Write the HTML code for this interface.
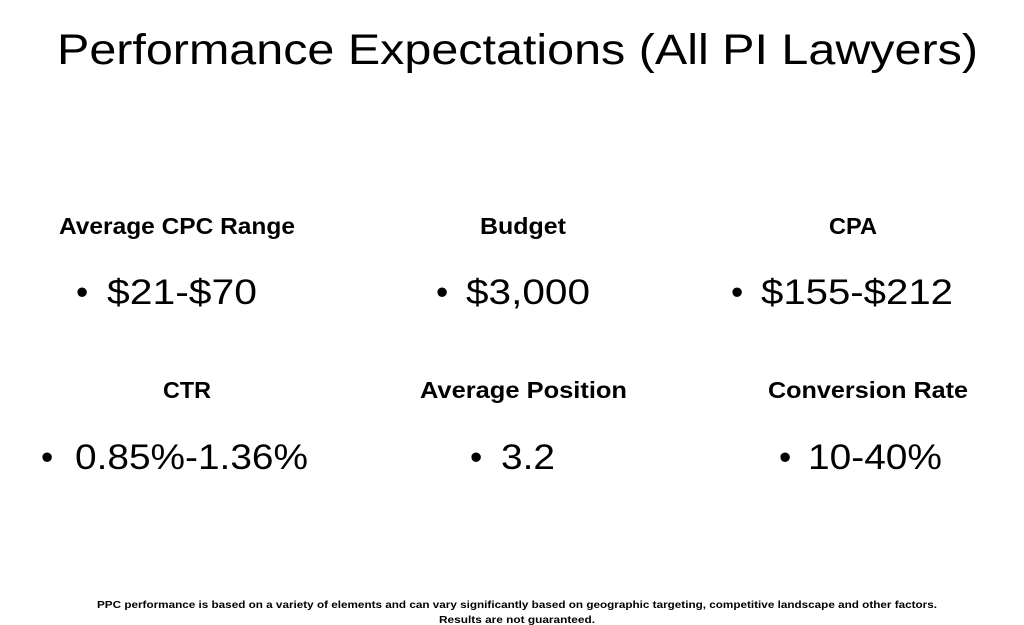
<!DOCTYPE html>
<html><head><meta charset="utf-8"><style>
html,body{margin:0;padding:0;background:#fff;width:1024px;height:625px;overflow:hidden}
svg{display:block}
text{font-family:"Liberation Sans",sans-serif;fill:#000}
.h{font-weight:bold;font-size:23px}
.b{font-size:35px}
.f{font-weight:bold;font-size:10.5px}
</style></head><body>
<svg width="1024" height="625" viewBox="0 0 1024 625">
<rect width="1024" height="625" fill="#fff"/>
<text x="57" y="64" font-size="43" textLength="921" lengthAdjust="spacingAndGlyphs">Performance Expectations (All PI Lawyers)</text>

<g>
<text class="h" x="59" y="234" textLength="236" lengthAdjust="spacingAndGlyphs">Average CPC Range</text>
<text class="b" x="76" y="304">•</text>
<text class="b" x="107" y="304" textLength="150" lengthAdjust="spacingAndGlyphs">$21-$70</text>
</g>
<g>
<text class="h" x="480" y="234" textLength="86" lengthAdjust="spacingAndGlyphs">Budget</text>
<text class="b" x="436" y="304">•</text>
<text class="b" x="466" y="304" textLength="124" lengthAdjust="spacingAndGlyphs">$3,000</text>
</g>
<g>
<text class="h" x="829" y="234" textLength="48" lengthAdjust="spacingAndGlyphs">CPA</text>
<text class="b" x="731" y="304">•</text>
<text class="b" x="761" y="304" textLength="192" lengthAdjust="spacingAndGlyphs">$155-$212</text>
</g>
<g>
<text class="h" x="163" y="398" textLength="48" lengthAdjust="spacingAndGlyphs">CTR</text>
<text class="b" x="41" y="469">•</text>
<text class="b" x="75" y="469" textLength="233" lengthAdjust="spacingAndGlyphs">0.85%-1.36%</text>
</g>
<g>
<text class="h" x="420" y="398" textLength="207" lengthAdjust="spacingAndGlyphs">Average Position</text>
<text class="b" x="470" y="469">•</text>
<text class="b" x="501" y="469" textLength="54" lengthAdjust="spacingAndGlyphs">3.2</text>
</g>
<g>
<text class="h" x="768" y="398" textLength="200" lengthAdjust="spacingAndGlyphs">Conversion Rate</text>
<text class="b" x="779" y="469">•</text>
<text class="b" x="808" y="469" textLength="134" lengthAdjust="spacingAndGlyphs">10-40%</text>
</g>

<text class="f" x="97" y="608" textLength="840" lengthAdjust="spacingAndGlyphs">PPC performance is based on a variety of elements and can vary significantly based on geographic targeting, competitive landscape and other factors.</text>
<text class="f" x="439" y="623" textLength="156" lengthAdjust="spacingAndGlyphs">Results are not guaranteed.</text>
</svg>
</body></html>
